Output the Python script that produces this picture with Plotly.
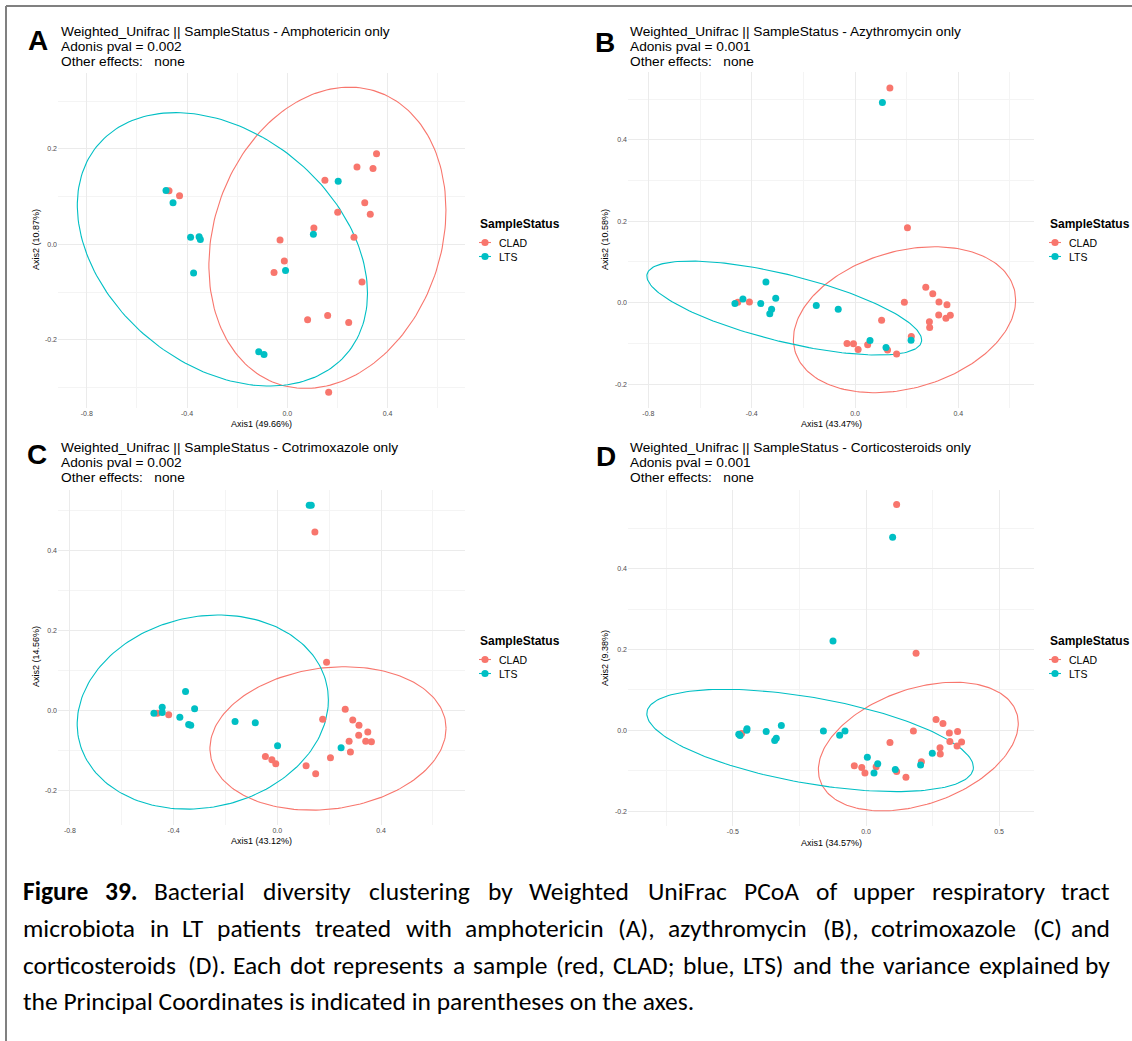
import numpy as np
import plotly.graph_objects as go

W, H = 1132, 1041
CLAD_COLOR = "#F8766D"
LTS_COLOR = "#00BFC4"

# ---------------- PCoA coordinates (Axis1, Axis2) ----------------
# A - Amphotericin only
amph_clad_x = [-0.472, -0.430, -0.029, -0.012, -0.053, 0.106, 0.150, 0.201, 0.266, 0.278,
               0.342, 0.356, 0.309, 0.331, 0.298, 0.081, 0.161, 0.245, 0.165]
amph_clad_y = [0.112, 0.102, 0.009, -0.035, -0.059, 0.034, 0.134, 0.067, 0.015, 0.162,
               0.159, 0.190, 0.087, 0.063, -0.079, -0.158, -0.149, -0.164, -0.310]
amph_lts_x = [-0.484, -0.456, -0.386, -0.352, -0.347, -0.374, -0.007, 0.104, 0.203, -0.114, -0.093]
amph_lts_y = [0.113, 0.087, 0.015, 0.016, 0.010, -0.060, -0.055, 0.021, 0.132, -0.225, -0.231]

# B - Azythromycin only
azi_clad_x = [0.135, 0.203, -0.454, -0.409, 0.191, 0.274, 0.301, 0.325, 0.356, 0.324, 0.352,
              0.369, 0.288, 0.289, 0.103, -0.031, -0.006, 0.012, 0.049, 0.126, 0.161, 0.218]
azi_clad_y = [0.527, 0.184, 0.001, 0.002, 0.001, 0.038, 0.022, 0.002, -0.005, -0.030, -0.038,
              -0.031, -0.047, -0.061, -0.043, -0.100, -0.101, -0.115, -0.103, -0.116, -0.126, -0.083]
azi_lts_x = [0.106, -0.465, -0.434, -0.345, -0.365, -0.307, -0.323, -0.330, -0.150, -0.065,
             0.058, 0.120, 0.217]
azi_lts_y = [0.492, -0.002, 0.009, 0.051, -0.002, 0.011, -0.016, -0.027, -0.007, -0.016,
             -0.093, -0.110, -0.092]

# C - Cotrimoxazole only
cotri_clad_x = [0.145, 0.190, -0.463, -0.419, 0.262, 0.175, 0.291, 0.315, 0.349, 0.314,
                0.341, 0.363, 0.277, 0.282, 0.205, 0.111, 0.148, -0.046, -0.021, -0.006]
cotri_clad_y = [0.445, 0.120, -0.007, -0.011, 0.003, -0.022, -0.024, -0.037, -0.054, -0.062,
                -0.077, -0.078, -0.077, -0.104, -0.118, -0.138, -0.158, -0.115, -0.123, -0.133]
cotri_lts_x = [0.123, 0.131, -0.476, -0.444, -0.444, -0.354, -0.376, -0.319, -0.342, -0.334,
               -0.163, -0.085, 0.001, 0.246]
cotri_lts_y = [0.512, 0.512, -0.007, 0.008, -0.005, 0.047, -0.017, 0.004, -0.035, -0.037,
               -0.028, -0.031, -0.088, -0.093]

# D - Corticosteroids only
cort_clad_x = [0.115, 0.188, -0.467, 0.178, 0.263, 0.289, 0.313, 0.344, 0.315, 0.359, 0.342,
               0.278, 0.279, 0.090, 0.208, -0.044, -0.016, -0.004, 0.038, 0.115, 0.150]
cort_clad_y = [0.559, 0.191, -0.008, -0.002, 0.027, 0.017, -0.007, -0.003, -0.028, -0.029, -0.039,
               -0.043, -0.059, -0.030, -0.078, -0.088, -0.092, -0.106, -0.090, -0.102, -0.116]
cort_lts_x = [0.100, -0.124, -0.478, -0.473, -0.447, -0.448, -0.375, -0.318, -0.337, -0.343,
              -0.160, -0.099, -0.079, 0.005, 0.044, 0.030, 0.110, 0.205, 0.249]
cort_lts_y = [0.478, 0.221, -0.010, -0.013, 0.004, 0.000, -0.003, 0.012, -0.020, -0.025,
              -0.002, -0.012, -0.002, -0.067, -0.083, -0.106, -0.097, -0.086, -0.057]

# 95% confidence ellipses: [centre x, centre y, sd x, sd y, correlation]
amph_ell_clad = [0.160, 0.0137, 0.473, 0.3157, 0.185]
amph_ell_lts = [-0.259, -0.0105, 0.579, 0.2865, -0.323]
azi_ell_clad = [0.1916, -0.0418, 0.4303, 0.1792, 0.270]
azi_ell_lts = [-0.274, -0.0131, 0.532, 0.1154, -0.681]
cotri_ell_clad = [0.1955, -0.070, 0.4555, 0.179, 0.140]
cotri_ell_lts = [-0.2875, -0.0042, 0.4845, 0.2422, 0.124]
cort_ell_clad = [0.1965, -0.0404, 0.3755, 0.1593, 0.362]
cort_ell_lts = [-0.210, -0.0252, 0.6133, 0.1267, -0.524]

# panel texts
panel_letters = ["A", "B", "C", "D"]
panel_treatments = ["Amphotericin", "Azythromycin", "Cotrimoxazole", "Corticosteroids"]
adonis_pvals = ["0.002", "0.001", "0.002", "0.001"]
axis1_labels = ["Axis1 (49.66%)", "Axis1 (43.47%)", "Axis1 (43.12%)", "Axis1 (34.57%)"]
axis2_labels = ["Axis2 (10.87%)", "Axis2 (10.58%)", "Axis2 (14.56%)", "Axis2 (9.38%)"]
status_levels = ["CLAD", "LTS"]

# tick values / labels
ticks_x_04 = [-0.8, -0.4, 0.0, 0.4]
ticklabels_x_04 = ["-0.8", "-0.4", "0.0", "0.4"]
minor_x_04 = [-0.6, -0.2, 0.2, 0.6]
ticks_x_05 = [-0.5, 0.0, 0.5]
ticklabels_x_05 = ["-0.5", "0.0", "0.5"]
minor_x_05 = [-0.75, -0.25, 0.25]
ticks_y_a = [-0.2, 0.0, 0.2]
ticklabels_y_a = ["-0.2", "0.0", "0.2"]
minor_y_a = [-0.3, -0.1, 0.1, 0.3]
ticks_y_b = [-0.2, 0.0, 0.2, 0.4]
ticklabels_y_b = ["-0.2", "0.0", "0.2", "0.4"]
minor_y_b = [-0.1, 0.1, 0.3, 0.5]

caption_bold = "Figure 39."
caption_line1 = "Bacterial diversity clustering by Weighted UniFrac PCoA of upper respiratory tract"
caption_line2 = ("microbiota in LT patients treated with amphotericin (A), azythromycin (B), "
                 "cotrimoxazole (C) and")
caption_line3 = ("corticosteroids (D). Each dot represents a sample (red, CLAD; blue, LTS) "
                 "and the variance explained by")
caption_line4 = "the Principal Coordinates is indicated in parentheses on the axes."

panels = [
    dict(clad=(amph_clad_x, amph_clad_y), lts=(amph_lts_x, amph_lts_y),
         ell=(amph_ell_clad, amph_ell_lts)),
    dict(clad=(azi_clad_x, azi_clad_y), lts=(azi_lts_x, azi_lts_y),
         ell=(azi_ell_clad, azi_ell_lts)),
    dict(clad=(cotri_clad_x, cotri_clad_y), lts=(cotri_lts_x, cotri_lts_y),
         ell=(cotri_ell_clad, cotri_ell_lts)),
    dict(clad=(cort_clad_x, cort_clad_y), lts=(cort_lts_x, cort_lts_y),
         ell=(cort_ell_clad, cort_ell_lts)),
]

# ---------------- layout geometry (pixels) ----------------
geom = [
    dict(box=(58, 465, 73, 408), xr=(-0.915, 0.709), yr=(-0.343, 0.359),
         xt=(ticks_x_04, ticklabels_x_04, minor_x_04), yt=(ticks_y_a, ticklabels_y_a, minor_y_a),
         letter=(38, 40), title=(59, 32), leg=(478, 224), ax1=(261.5, 424), ax2=(36, 240)),
    dict(box=(628, 1034, 72, 408), xr=(-0.879, 0.693), yr=(-0.2586, 0.5666),
         xt=(ticks_x_04, ticklabels_x_04, minor_x_04), yt=(ticks_y_b, ticklabels_y_b, minor_y_b),
         letter=(605, 42), title=(628, 32), leg=(1048, 224), ax1=(831, 424), ax2=(605, 240)),
    dict(box=(58, 465, 490, 825), xr=(-0.846, 0.724), yr=(-0.286, 0.550),
         xt=(ticks_x_04, ticklabels_x_04, minor_x_04), yt=(ticks_y_b, ticklabels_y_b, minor_y_b),
         letter=(37, 454), title=(59, 448), leg=(478, 641), ax1=(261.5, 841), ax2=(36, 657)),
    dict(box=(628, 1034, 490, 826), xr=(-0.894, 0.631), yr=(-0.237, 0.595),
         xt=(ticks_x_05, ticklabels_x_05, minor_x_05), yt=(ticks_y_b, ticklabels_y_b, minor_y_b),
         letter=(606, 456), title=(628, 448), leg=(1048, 641), ax1=(831, 843), ax2=(605, 658)),
]

SANS = "Liberation Sans, Arial, sans-serif"
CAP_FAMILY = "Carlito, Calibri, Liberation Sans Narrow, sans-serif"
CAP_SIZE = 25.5

# Carlito/Calibri advance widths (em) for laying out the justified caption
CAL_W = {" ": .226, "a": .479, "b": .525, "c": .423, "d": .525, "e": .498, "f": .305,
         "g": .471, "h": .525, "i": .229, "j": .239, "k": .455, "l": .229, "m": .799,
         "n": .525, "o": .527, "p": .525, "q": .525, "r": .349, "s": .391, "t": .335,
         "u": .525, "v": .452, "w": .715, "x": .433, "y": .453, "z": .395,
         "A": .579, "B": .544, "C": .533, "D": .615, "E": .488, "F": .459, "L": .420,
         "P": .517, "S": .459, "T": .487, "U": .642, "W": .890,
         ".": .252, ",": .250, ";": .268, "(": .303, ")": .303}
CAL_W_BOLD = {"F": .459, "i": .246, "g": .469, "u": .537, "r": .355, "e": .503, " ": .226,
              "3": .507, "9": .507, ".": .267}


def word_width(word, bold=False):
    table = CAL_W_BOLD if bold else CAL_W
    return 1.02 * sum(table.get(ch, CAL_W.get(ch, .507)) for ch in word) * CAP_SIZE


def px(x):
    return x / W


def py(y):
    return 1 - y / H


def ellipse_path(params, n=200):
    cx, cy, sx, sy, r = params
    t = np.linspace(0, 2 * np.pi, n)
    u, v = np.cos(t), np.sin(t)
    ex = cx + sx * u
    ey = cy + sy * (r * u + np.sqrt(1 - r * r) * v)
    return ex, ey


fig = go.Figure()
annotations = []
shapes = []

for i, (pan, g) in enumerate(zip(panels, geom)):
    k = "" if i == 0 else str(i + 1)
    xa, ya = "x" + k, "y" + k

    for (ex_par, col) in zip(pan["ell"], (CLAD_COLOR, LTS_COLOR)):
        ex, ey = ellipse_path(ex_par)
        fig.add_trace(go.Scatter(x=ex, y=ey, mode="lines", xaxis=xa, yaxis=ya,
                                 line=dict(color=col, width=1.1), showlegend=False,
                                 hoverinfo="skip"))
    for (pts, col, name) in ((pan["clad"], CLAD_COLOR, "CLAD"), (pan["lts"], LTS_COLOR, "LTS")):
        fig.add_trace(go.Scatter(x=pts[0], y=pts[1], mode="markers", xaxis=xa, yaxis=ya,
                                 name=name, marker=dict(color=col, size=7, line=dict(width=0)),
                                 showlegend=False))

    x0, x1, y0, y1 = g["box"]
    xt, xl, xm = g["xt"]
    yt, yl, ym = g["yt"]
    axis_common = dict(showline=False, zeroline=False, ticks="", showgrid=True,
                       gridcolor="#EBEBEB", gridwidth=1,
                       tickfont=dict(family=SANS, size=7, color="#4D4D4D"))
    fig.layout["xaxis" + k] = dict(domain=[px(x0), px(x1)], range=list(g["xr"]), anchor=ya,
                                   tickmode="array", tickvals=xt, ticktext=xl,
                                   minor=dict(tickvals=xm, showgrid=True, gridcolor="#F4F4F4",
                                              gridwidth=1),
                                   **axis_common)
    fig.layout["yaxis" + k] = dict(domain=[py(y1), py(y0)], range=list(g["yr"]), anchor=xa,
                                   tickmode="array", tickvals=yt, ticktext=yl,
                                   minor=dict(tickvals=ym, showgrid=True, gridcolor="#F4F4F4",
                                              gridwidth=1),
                                   **axis_common)

    # panel letter and title block
    lx, ly = g["letter"]
    annotations.append(dict(x=px(lx), y=py(ly), text="<b>%s</b>" % panel_letters[i],
                            font=dict(family=SANS, size=28, color="#000000"),
                            xanchor="center", yanchor="middle"))
    tx, ty = g["title"]
    title_lines = ["Weighted_Unifrac || SampleStatus - %s only" % panel_treatments[i],
                   "Adonis pval = %s" % adonis_pvals[i],
                   "Other effects:\u00a0\u00a0\u00a0none"]
    for j, line in enumerate(title_lines):
        annotations.append(dict(x=px(tx), y=py(ty + j * 14.6), text=line,
                                font=dict(family=SANS, size=13.7, color="#000000"),
                                xanchor="left", yanchor="middle"))

    # axis titles
    ax1x, ax1y = g["ax1"]
    annotations.append(dict(x=px(ax1x), y=py(ax1y), text=axis1_labels[i],
                            font=dict(family=SANS, size=9, color="#000000"),
                            xanchor="center", yanchor="middle"))
    ax2x, ax2y = g["ax2"]
    annotations.append(dict(x=px(ax2x), y=py(ax2y), text=axis2_labels[i], textangle=-90,
                            font=dict(family=SANS, size=9, color="#000000"),
                            xanchor="center", yanchor="middle"))

    # legend
    gx, gy = g["leg"]
    annotations.append(dict(x=px(gx), y=py(gy), text="<b>SampleStatus</b>",
                            font=dict(family=SANS, size=12, color="#000000"),
                            xanchor="left", yanchor="middle"))
    for j, (lev, col) in enumerate(zip(status_levels, (CLAD_COLOR, LTS_COLOR))):
        ky = gy + 18.5 + j * 14
        kx = gx + 7
        shapes.append(dict(type="line", xref="paper", yref="paper",
                           x0=px(kx - 6), x1=px(kx + 6), y0=py(ky), y1=py(ky),
                           line=dict(color=col, width=1.1)))
        shapes.append(dict(type="circle", xref="paper", yref="paper",
                           x0=px(kx - 3.6), x1=px(kx + 3.6), y0=py(ky - 3.6), y1=py(ky + 3.6),
                           fillcolor=col, line=dict(width=0)))
        annotations.append(dict(x=px(gx + 19), y=py(ky), text=lev,
                                font=dict(family=SANS, size=10.5, color="#000000"),
                                xanchor="left", yanchor="middle"))

# ---------------- caption (fully justified lines) ----------------
cap_font = dict(family=CAP_FAMILY, size=CAP_SIZE, color="#000000")
CAP_LEFT, CAP_RIGHT = 21, 1112


def justified_words(words, bold_count=0):
    widths = [word_width(w, bold=(j < bold_count)) for j, w in enumerate(words)]
    gap = (CAP_RIGHT - CAP_LEFT - sum(widths)) / (len(words) - 1)
    xs, x = [], CAP_LEFT
    for wdt in widths:
        xs.append(x)
        x += wdt + gap
    return xs


line1_words = caption_bold.split() + caption_line1.split()
cap_rows = [(line1_words, 891, 2), (caption_line2.split(), 928, 0),
            (caption_line3.split(), 965, 0)]
for words, yy, nbold in cap_rows:
    xs = justified_words(words, nbold)
    for j, (wd, xx) in enumerate(zip(words, xs)):
        txt = "<b>%s</b>" % wd if j < nbold else wd
        if j == len(words) - 1:
            annotations.append(dict(x=px(CAP_RIGHT), y=py(yy), text=txt, font=cap_font,
                                    xanchor="right", yanchor="middle"))
        else:
            annotations.append(dict(x=px(xx), y=py(yy), text=txt, font=cap_font,
                                    xanchor="left", yanchor="middle"))
annotations.append(dict(x=px(CAP_LEFT), y=py(1001), text=caption_line4, font=cap_font,
                        xanchor="left", yanchor="middle"))

for a in annotations:
    a.setdefault("xref", "paper")
    a.setdefault("yref", "paper")
    a["showarrow"] = False

# outer frame (top and left rules)
shapes.append(dict(type="line", xref="paper", yref="paper", x0=px(6), x1=1, y0=py(6), y1=py(6),
                   line=dict(color="#808080", width=2)))
shapes.append(dict(type="line", xref="paper", yref="paper", x0=px(6), x1=px(6), y0=py(6), y1=0,
                   line=dict(color="#808080", width=2)))

fig.update_layout(width=W, height=H, margin=dict(l=0, r=0, t=0, b=0),
                  paper_bgcolor="white", plot_bgcolor="white",
                  showlegend=False, annotations=annotations, shapes=shapes)

fig.write_html("out.html")
